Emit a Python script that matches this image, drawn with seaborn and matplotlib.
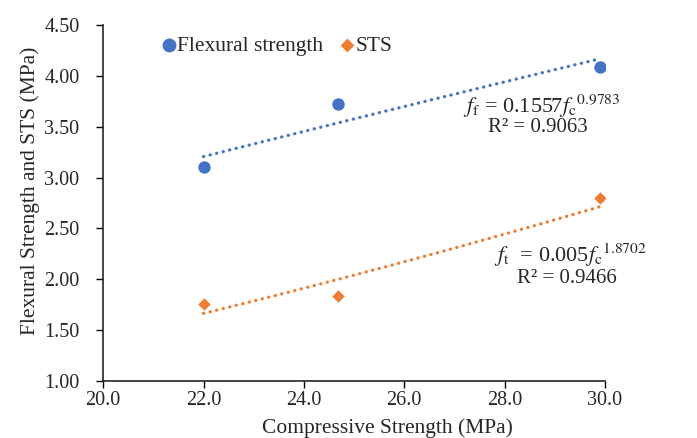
import numpy as np
import pandas as pd
import matplotlib
matplotlib.use("Agg")
import matplotlib.pyplot as plt
import seaborn as sns

# Data
compressive = [22.0, 24.68, 29.9]
flexural = [3.107, 3.72, 4.09]
sts = [1.754, 1.84, 2.80]
x_ticks = [20.0, 22.0, 24.0, 26.0, 28.0, 30.0]
y_ticks = [1.00, 1.50, 2.00, 2.50, 3.00, 3.50, 4.00, 4.50]
series_names = ["Flexural strength", "STS"]
eq_flex = r"$f_{\mathrm{f}}$ = 0.1557$f_{\mathrm{c}}$$^{0.9783}$"
r2_flex = "R² = 0.9063"
eq_sts = r"$f_{\mathrm{t}}$  = 0.005$f_{\mathrm{c}}$$^{1.8702}$"
r2_sts = "R² = 0.9466"

blue = "#4472C4"
orange = "#ED7D31"

sns.set_style("ticks")
plt.rcParams["font.family"] = ["Liberation Serif", "DejaVu Serif"]
plt.rcParams["mathtext.fontset"] = "stix"

fig = plt.figure(figsize=(6.97, 4.38), dpi=100)
ax = fig.add_axes([0.148, 0.130, 0.720, 0.813])

# Power-law trend lines fitted to the data (like Excel's power trendline)
def power_fit(xv, yv):
    b, ln_a = np.polyfit(np.log(xv), np.log(yv), 1)
    xs = np.linspace(min(xv), max(xv), 60)
    return xs, np.exp(ln_a) * xs ** b

for vals, col in [(flexural, blue), (sts, orange)]:
    xs, ys = power_fit(compressive, vals)
    sns.lineplot(x=xs, y=ys, ax=ax, color=col, lw=2.3,
                 linestyle=(0, (0.1, 2.0)), dash_capstyle="round", legend=False)

sns.scatterplot(x=compressive, y=flexural, marker="o", color=blue, s=80,
                linewidth=0, ax=ax, zorder=3, label=series_names[0])
sns.scatterplot(x=compressive, y=sts, marker="D", color=orange, s=40,
                linewidth=0, ax=ax, zorder=3, label=series_names[1])

ax.set_xlim(20, 30)
ax.set_ylim(1.0, 4.5)
ax.set_xticks(x_ticks)
ax.set_xticklabels([f"{v:.1f}" for v in x_ticks])
ax.set_yticks(y_ticks)
ax.set_yticklabels([f"{v:.2f}" for v in y_ticks])
ax.tick_params(labelsize=14.5, length=5, width=1, color="black")
ax.tick_params(axis="y", pad=12)
ax.tick_params(axis="x", pad=2)
ax.set_xlabel("Compressive Strength (MPa)", fontsize=15.5)
ax.set_ylabel("Flexural Strength and STS (MPa)", fontsize=15.5)
ax.xaxis.set_label_coords(0.566, -0.105)
ax.yaxis.set_label_coords(-0.125, 0.534)
sns.despine(ax=ax)
for s in ["left", "bottom"]:
    ax.spines[s].set_linewidth(1.2)

handles, labels = ax.get_legend_handles_labels()
leg = ax.legend(handles=handles, labels=labels, loc="upper left",
                bbox_to_anchor=(0.075, 1.025), ncol=2, frameon=False, fontsize=15.5,
                handlelength=0.8, handletextpad=0.0, columnspacing=0.7)
for h, ms in zip(leg.legend_handles, [10, 7]):
    h.set_sizes([ms ** 2])

ax.text(0.718, 0.772, eq_flex, transform=ax.transAxes, fontsize=16,
        ha="left", va="center")
ax.text(0.867, 0.711, r2_flex, transform=ax.transAxes, fontsize=15,
        ha="center", va="center")
ax.text(0.778, 0.354, eq_sts, transform=ax.transAxes, fontsize=16,
        ha="left", va="center")
ax.text(0.924, 0.289, r2_sts, transform=ax.transAxes, fontsize=15,
        ha="center", va="center")

fig.savefig("out.png", dpi=100)
